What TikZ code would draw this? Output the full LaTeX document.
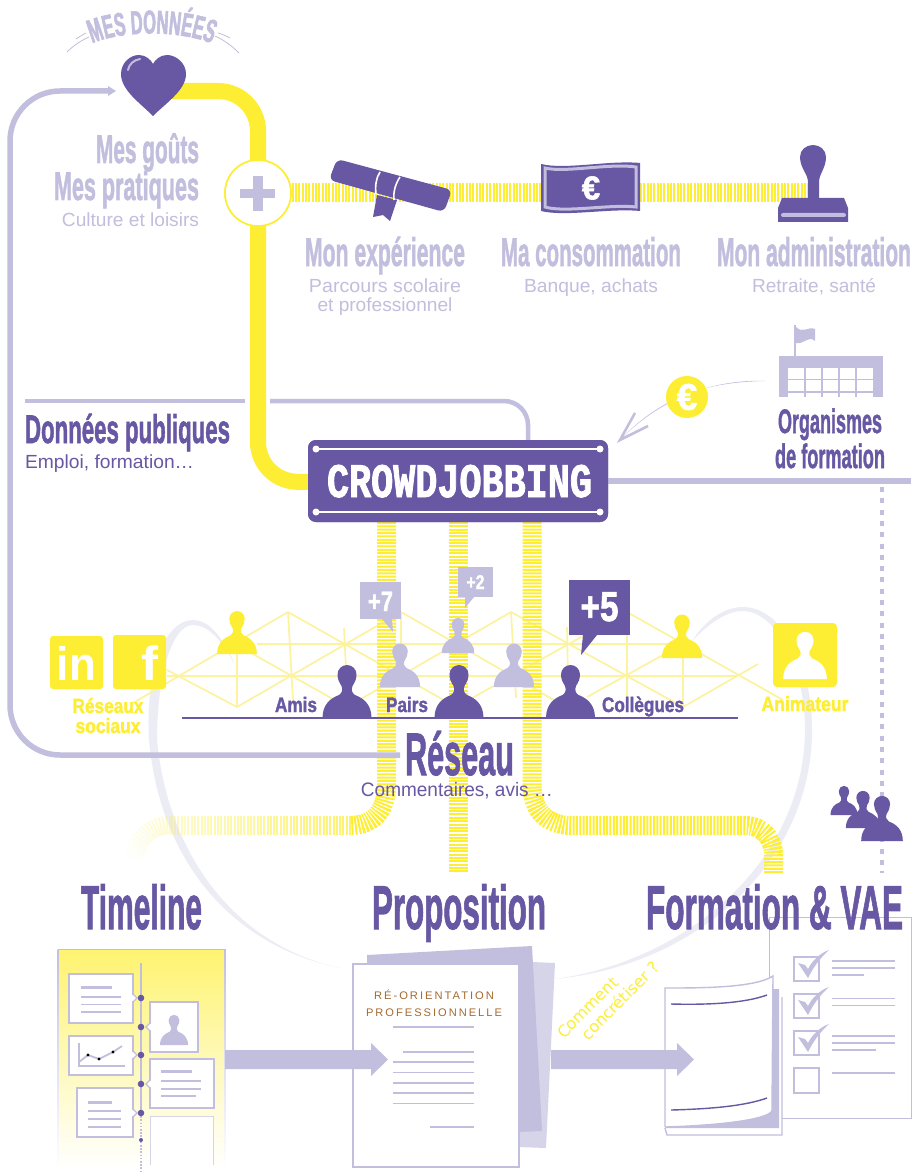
\documentclass[tikz,border=0pt]{standalone}
\usepackage{fontspec}
\usepackage{graphicx}
\usetikzlibrary{decorations.text,arrows.meta}
\setmainfont{Liberation Sans}
\newfontfamily\hv[BoldFeatures={FakeBold=1.7}]{Liberation Sans}
\newfontfamily\hvs[BoldFeatures={FakeStretch=0.5,FakeBold=1.7}]{Liberation Sans}
\newfontfamily\slabf[BoldFeatures={FakeBold=2}]{Liberation Mono}
\newfontfamily\vera{DejaVu Sans}
\definecolor{pur}{HTML}{6857A3}
\definecolor{lav}{HTML}{C2BEDD}
\definecolor{lav2}{HTML}{D6D4E8}
\definecolor{yel}{HTML}{FDEE33}
\definecolor{pale}{HTML}{FDF29E}
\definecolor{ghost}{HTML}{ECECF5}
\definecolor{brn}{HTML}{A56A30}
\newcommand\tl[3]{\resizebox{#1pt}{\height}{\fontsize{#2pt}{#2pt}\selectfont\hv\bfseries #3}}
\newcommand\rg[3]{\resizebox{#1pt}{\height}{\fontsize{#2pt}{#2pt}\selectfont #3}}
\newcommand\pers[4]{\begin{scope}[shift={(#1,#2)},scale=#3]
 \fill[#4] (-24.5,0) .. controls (-24.5,-14) and (-16,-20) .. (-8,-23) .. controls (-5,-25) and (-4,-28) .. (-5.5,-32) .. controls (-8,-36) and (-9.5,-39) .. (-9.5,-43.5) .. controls (-9.5,-49) and (-5,-53) .. (0,-53) .. controls (5,-53) and (9.5,-49) .. (9.5,-43.5) .. controls (9.5,-39) and (8,-36) .. (5.5,-32) .. controls (4,-28) and (5,-25) .. (8,-23) .. controls (16,-20) and (24.5,-14) .. (24.5,0) -- cycle;
 \end{scope}}
\newcommand\cardR[5]{\draw[cardb] (#1,#2) rectangle (#3,#4); \draw[cardb] (#3,#5-4) -- (#3+4,#5) -- (#3,#5+4); \fill[white] (#3-1,#5-3.4) rectangle (#3+.4,#5+3.4);}
\newcommand\cardL[5]{\draw[cardb] (#1,#2) rectangle (#3,#4); \draw[cardb] (#1,#5-4) -- (#1-4,#5) -- (#1,#5+4); \fill[white] (#1-.4,#5-3.4) rectangle (#1+1,#5+3.4);}
\newcommand\chk[1]{\begin{scope}[shift={(0,#1)}]\draw[lav,line width=1.8,fill=white] (794,0) rectangle (819,24);
 \fill[lav] (798,6) -- (805,8) .. controls (807,10) .. (808,12) .. controls (812,4) and (820,-4) .. (829,-7) .. controls (819,2) and (813,11) .. (808,21) -- cycle;\end{scope}}
\tikzset{
 lbl/.style={inner sep=0,outer sep=0,anchor=base},
 lblr/.style={inner sep=0,outer sep=0,anchor=base east},
 lbll/.style={inner sep=0,outer sep=0,anchor=base west},
 bandv/.style={draw=yel,line width=19,dash pattern=on 2pt off 1.35pt},
 solidy/.style={draw=yel,line width=16},
 lavline/.style={draw=lav,line width=5.5},
 lat/.style={draw=pale,line width=1.7},
 cardb/.style={draw=lav,line width=1.2,fill=white},
 rule/.style={draw=lav,line width=1.6},
 plusc/.style={circle,draw=yel,fill=white,line width=1.6,minimum size=66,inner sep=0,outer sep=0},
 cjbox/.style={inner sep=0,outer sep=0,minimum width=300,minimum height=82,rounded corners=8,fill=pur},
}
\begin{document}
\begin{tikzpicture}[x=1pt,y=-1pt]
\useasboundingbox (0,0) rectangle (914,1174);
\fill[white] (0,0) rectangle (914,1174);
% ghost arcs
\fill[ghost] (340,968) .. controls (230,945) and (160,860) .. (149,740) .. controls (145,670) and (165,620) .. (193,620) .. controls (208,620) and (222,635) .. (235,665) .. controls (222,640) and (208,625) .. (193,625) .. controls (172,625) and (157,675) .. (157,740) .. controls (168,855) and (235,945) .. (340,968) -- cycle;
\fill[ghost] (693,640) .. controls (705,620) and (725,607) .. (743,607) .. controls (780,607) and (812,660) .. (812,730) .. controls (812,860) and (700,965) .. (555,979) .. controls (690,960) and (804,860) .. (805,730) .. controls (805,665) and (775,611) .. (743,611) .. controls (725,611) and (708,625) .. (693,640) -- cycle;
% lattice
\foreach \a/\b/\c/\d in {133/703/288/612, 288/612/456/707, 167/670/237/707, 237/707/401/612, 237/645/347/707, 401/612/566/707, 347/707/511/612, 456/707/626/612, 511/612/683/707, 587/697/683/644, 627/612/783/700, 683/707/758/664, 257/644/670/644, 167/676/737/676, 288/612/293/700, 237/650/237/707, 344/628/347/690, 401/612/401/660, 511/612/516/698, 567/627/568/680, 627/612/627/700, 683/650/683/707}
 {\draw[lat] (\a,\b) -- (\c,\d);}
% network persons and bands
\coordinate (bl0) at (386.5,522); \coordinate (bc0) at (458.5,522); \coordinate (br0) at (532,522);
\coordinate (bc1) at (458.5,873); \coordinate (br1) at (773.5,873);
\draw[bandv] (bl0) -- (386.5,785) .. controls (386.5,812) and (372,825.5) .. (350,825.5);
\draw[bandv] (bc0) -- (bc1);
\draw[bandv] (br0) -- (532,785) .. controls (532,812) and (548,825.5) .. (572,825.5) -- (745,825.5) .. controls (762,825.5) and (773.5,838) .. (773.5,855) -- (br1);
\foreach \x in {350,346.7,...,170} {
 \pgfmathsetmacro\op{0.25+0.45*(\x-170)/180}
 \draw[yel,line width=2,opacity=\op] (\x,816) -- (\x,835);}
\foreach \t in {0,5,...,85} {
 \pgfmathsetmacro\op{0.25*(1-\t/90)}
 \draw[yel,line width=2,opacity=\op] ({170-26*sin(\t)},{860-26*cos(\t)}) -- ({170-44*sin(\t)},{860-44*cos(\t)});}
% top bands
\node[plusc] (plus) at (258,193) {};
\coordinate (stampc) at (812,193);
\draw[bandv] (plus.center) -- (stampc);
% main yellow
\coordinate (heartc) at (170,91);
\node[cjbox] (cj) at (458,481) {};
\begin{scope}[rounded corners=40]
\draw[solidy] (heartc) -- (258,91) -- (plus.center);
\draw[solidy] (plus.center) -- (258,482) -- (cj.center);
\end{scope}
\node[plusc] at (plus) {};
% plus
\fill[lav] (240,189) rectangle (275,198);
\fill[lav] (253,176) rectangle (263,211);
% lavender loop
\coordinate (resw) at (400,755); \coordinate (loopend) at (108,91);
\draw[lavline,rounded corners=50] (resw) -- (10,755) -- (10,91) -- (loopend);
\fill[lav] (108,86) -- (116,91) -- (108,96) -- cycle;
% heart
\fill[pur] (153,116) .. controls (140,103) and (121,90) .. (121,74) .. controls (121,63) and (130,55) .. (139,55) .. controls (146,55) and (151,60) .. (153,64) .. controls (155,60) and (160,55) .. (167,55) .. controls (176,55) and (186,63) .. (186,74) .. controls (186,90) and (166,103) .. (153,116) -- cycle;
\draw[lav,line width=2,line cap=round] (128,70) .. controls (129,64) and (134,60) .. (140,59);
% MES DONNEES
\path[decorate,decoration={text along path,text align=center,text={|\fontsize{33pt}{33pt}\selectfont\hvs\bfseries\color{lav}|MES DONNÉES}}] (85,47) .. controls (115,29) and (187,29) .. (219,47);
\draw[lav,line width=.8] (67,52) .. controls (73,46) and (80,41) .. (89,37);
\draw[lav,line width=.8] (76,39) .. controls (79,37) and (82,35) .. (86,33);
\draw[lav,line width=.8] (215,36) .. controls (224,40) and (232,46) .. (239,53);
\draw[lav,line width=.8] (218,33) .. controls (222,34) and (226,36) .. (230,38);
% text top
\node[lblr,text=lav] (t1) at (199,163) {\tl{103}{40}{Mes goûts}};
\node[lblr,text=lav] (t2) at (199,200) {\tl{145}{40}{Mes pratiques}};
\node[lblr,text=lav] (t3) at (199,226.5) {\rg{137}{19}{Culture et loisirs}};
% diploma
\fill[pur,rounded corners=6] (337,159) -- (452,190) -- (444,212) -- (329,180) -- cycle;
\fill[pur] (377,195) -- (397,200) -- (390,221) -- (383,215) -- (373,217) -- cycle;
\draw[white,line width=1.6] (380,172) .. controls (376,178) and (375,186) .. (376,194);
\draw[white,line width=1.6] (400,177) .. controls (396,183) and (393,191) .. (394,200);
% banknote
\fill[pur] (541,164) .. controls (565,170) and (610,160) .. (640,163) -- (640,211) .. controls (610,208) and (565,217) .. (541,211) -- cycle;
\draw[lav,line width=3] (545,168) .. controls (565,173) and (610,163) .. (636,167) -- (636,207) .. controls (610,204) and (565,213) .. (545,207) -- cycle;
\node[inner sep=0,text=white,font=\fontsize{33pt}{33pt}\selectfont\hv\bfseries] (eur1) at (591,188) {€};
% stamp
\fill[pur] (808,198) -- (808,182) .. controls (808,174) and (800,168) .. (800,157) .. controls (800,150) and (806,145) .. (813,145) .. controls (820,145) and (826,150) .. (826,157) .. controls (826,168) and (819,174) .. (819,182) -- (819,198) -- cycle;
\fill[pur] (782,198) -- (844,198) -- (848,208) -- (848,222) -- (778,222) -- (778,208) -- cycle;
\fill[lav,rounded corners=2] (781,213) rectangle (846,217);
% top labels
\node[lbl,text=lav] (t4) at (385,266) {\tl{160}{40}{Mon expérience}};
\node[lbl,text=lav] (t5) at (385,292) {\rg{152}{19}{Parcours scolaire}};
\node[lbl,text=lav] (t6) at (385,311) {\rg{135}{19}{et professionnel}};
\node[lbl,text=lav] (t7) at (591,266) {\tl{180}{40}{Ma consommation}};
\node[lbl,text=lav] (t8) at (591,292) {\rg{134}{19}{Banque, achats}};
\node[lbl,text=lav] (t9) at (814,266) {\tl{194}{40}{Mon administration}};
\node[lbl,text=lav] (t10) at (814,292) {\rg{124}{19}{Retraite, santé}};
% donnees publiques
\coordinate (dpa) at (25,401); \coordinate (dpb) at (245,401); \coordinate (dpc) at (270,401); \coordinate (dpd) at (528,442);
\draw[draw=lav,line width=4.5] (dpa) -- (dpb);
\draw[draw=lav,line width=4.5,rounded corners=24] (dpc) -- (528,401) -- (dpd);
\node[lbll,text=pur] (t11) at (25,443) {\tl{205}{40}{Données publiques}};
\node[lbll,text=pur] (t12) at (25,468) {\rg{169}{19}{Emploi, formation…}};
% cj box details
\coordinate (rr) at (911,481);
\draw[draw=lav,line width=5.5] (cj.east) -- (rr);
\node[cjbox] at (cj) {};
\draw[white,line width=2] (316,449) -- (600,449); \draw[white,line width=2] (316,512) -- (600,512);
\foreach \p in {316,600} {\fill[white] (\p,449) circle (3.5); \fill[white] (\p,512) circle (3.5);}
\node[lbl,text=white] (cjt) at (459.5,497) {\resizebox{265pt}{\height}{\fontsize{48pt}{48pt}\selectfont\slabf\bfseries CROWDJOBBING}};
% euro arrow
\coordinate (orgw) at (765,381); \coordinate (tip) at (620,440);
\fill[lav] (orgw) .. controls (715,382) and (665,392) .. (tip) .. controls (662,397) and (715,379) .. (orgw) -- cycle;
\draw[lav,line width=2.5] (635,413) -- (tip) -- (648,426);
\node[circle,fill=yel,minimum size=42,inner sep=0,text=white,font=\fontsize{37pt}{37pt}\selectfont\hv\bfseries] (coin) at (687,397) {€};
% building
\fill[lav] (779,356) rectangle (883,397);
\fill[white] (788,368) rectangle (873,397);
\fill[lav] (779,392) rectangle (788,397); \fill[lav] (873,392) rectangle (883,397);
\draw[lav,line width=1.6] (788,379.5) -- (873,379.5);
\draw[lav,line width=1.6] (788,392) -- (873,392);
\foreach \x in {805,822,839,856} {\draw[lav,line width=1.6] (\x,368) -- (\x,397);}
\draw[lav,line width=1.4] (795,325) -- (795,357);
\fill[lav] (796,327) .. controls (803,334) and (808,326) .. (815,329) -- (815,341) .. controls (809,335) and (803,345) .. (796,343) -- cycle;
\node[lbl,text=pur] (t13) at (830,433) {\tl{104}{34}{Organismes}};
\node[lbl,text=pur] (t14) at (830,468) {\tl{110}{34}{de formation}};
% dotted
\coordinate (da) at (881.7,487); \coordinate (db) at (881.7,873);
\draw[draw=lav,line width=3.8,dash pattern=on 5pt off 6.3pt] (da) -- (db);
% persons
\pers{237}{654}{.81}{yel}
\pers{458}{653}{.66}{lav}
\pers{400}{687}{.82}{lav}
\pers{514}{687}{.82}{lav}
\pers{682}{658}{.82}{yel}
\pers{347}{718}{1}{pur}
\pers{459}{718}{1}{pur}
\pers{570.5}{718}{1}{pur}
\pers{844}{815}{.55}{pur}
\pers{863}{828}{.7}{pur}
\pers{882}{841}{.85}{pur}
% rule
\coordinate (ra) at (182,718); \coordinate (rb) at (738,718);
\draw[pur,line width=1.8] (ra) -- (rb);
\node[lbl,text=pur] (a1) at (296,712) {\tl{42}{21}{Amis}};
\node[lbl,text=pur] (a2) at (407,712) {\tl{42}{21}{Pairs}};
\node[lbl,text=pur] (a3) at (643,712) {\tl{82}{21}{Collègues}};
% bubbles
\fill[lav] (360,582) rectangle (401,619); \fill[lav] (382,619) -- (393,632) -- (392,619) -- cycle;
\node[lbl,text=white] (b7) at (380.5,611) {\tl{25}{28}{+7}};
\fill[lav] (458,567) rectangle (493,597); \fill[lav] (465,597) -- (465,608) -- (474,597) -- cycle;
\node[lbl,text=white] (b2) at (475.5,589) {\tl{18}{20}{+2}};
\fill[pur] (569,580) rectangle (630,635); \fill[pur] (583,635) -- (581,655) -- (597,635) -- cycle;
\node[lbl,text=white] (b5) at (599.5,621) {\tl{38}{42}{+5}};
% social
\fill[yel,rounded corners=3] (50,636) rectangle (103,689);
\fill[yel,rounded corners=3] (113,635) rectangle (166,689);
\node[lbl,text=white] (in) at (76.5,680) {\resizebox{39pt}{\height}{\fontsize{47pt}{47pt}\selectfont\bfseries in}};
\node[lbl,text=white] (ff) at (150,680) {\resizebox{17pt}{\height}{\fontsize{48pt}{48pt}\selectfont\bfseries f}};
\node[lbl,text=yel] (r1) at (108,713) {\tl{71}{20.5}{Réseaux}};
\node[lbl,text=yel] (r2) at (108,733) {\tl{65}{20.5}{sociaux}};
% animateur
\fill[yel,rounded corners=4] (773,623) rectangle (837,687);
\pers{805}{679}{.89}{white}
\node[lbl,text=yel] (r3) at (805,711) {\tl{87}{20.5}{Animateur}};
% reseau
\node[lbl,text=pur] (r4) at (459.5,775) {\tl{109}{60}{Réseau}};
\node[lbl,text=pur] (r5) at (457,796) {\rg{192}{19.5}{Commentaires, avis …}};
% timeline card
\shade[top color=yel!70!white,bottom color=white] (58,949) rectangle (225,1168);
\shade[top color=lav,bottom color=white] (57.5,949) rectangle (58.7,1168);
\shade[top color=lav,bottom color=white] (224.3,949) rectangle (225.5,1168);
\fill[lav] (57.5,948.5) rectangle (225.5,950);
\draw[lav,line width=2.4] (141,963) -- (141,1113);
\draw[lav,line width=1.6,dash pattern=on 1.6pt off 1.6pt] (141,1113) -- (141,1173);
\cardR{69}{974}{133}{1023}{998}
\cardL{150}{1002}{198}{1052}{1027}
\cardR{69}{1036}{133}{1075}{1055}
\cardL{150}{1059}{214}{1108}{1084}
\cardR{77}{1088}{133}{1137}{1113}
\fill[white] (150,1116) rectangle (213,1165);
\draw[lav2,line width=1] (150,1165) -- (150,1116) -- (213,1116) -- (213,1165);
\fill[lav] (81,985.5) rectangle (112,988.5);
\foreach \y in {997,1004.5,1012} {\draw[lav,line width=1.2] (81,\y) -- (121,\y);}
\pers{174}{1045}{.57}{lav}
\draw[lav,line width=1.3] (79,1043) -- (79,1066) -- (125,1066);
\draw[lav,line width=1.8] (79,1062) -- (88,1055) -- (99,1059) -- (113,1052) -- (122,1046);
\foreach \p/\q in {88/1055,99/1059,113/1052} {\fill[black] (\p,\q) circle (1.6);}
\fill[lav] (161,1070) rectangle (192,1073);
\foreach \y/\e in {1081/201,1089/201,1096/196} {\draw[lav,line width=1.2] (161,\y) -- (\e,\y);}
\fill[lav] (88,1100.5) rectangle (112,1103.5);
\foreach \y in {1111,1119,1127} {\draw[lav,line width=1.2] (88,\y) -- (121,\y);}
\foreach \y in {998,1027,1055,1084,1113} {\fill[pur] (141,\y) circle (3.3);}
\fill[pur] (141,1140) circle (2);
% proposition doc
\fill[lav2] (532,962) -- (555,963) -- (546,1148) -- (518,1147) -- cycle;
\fill[lav] (367,955) -- (532,946) -- (542,1131) -- (518,1132) -- (518,963) -- (367,963) -- cycle;
\node[draw=lav,line width=1.6,fill=white,inner sep=0,anchor=north west,minimum width=166,minimum height=203] (doc) at (352,963) {};
\node[lbl,text=brn] (d1) at (434,999) {\resizebox{120pt}{\height}{\fontsize{11pt}{11pt}\selectfont\addfontfeature{LetterSpace=18}RÉ-ORIENTATION}};
\node[lbl,text=brn] (d2) at (434,1016) {\resizebox{136pt}{\height}{\fontsize{11pt}{11pt}\selectfont\addfontfeature{LetterSpace=18}PROFESSIONNELLE}};
\foreach \y/\s/\e in {1027/393/474,1052/403/474,1062/393/474,1072.5/393/474,1083/393/474,1093/393/474,1103.5/393/474,1127/430/474} {\draw[rule] (\s,\y) -- (\e,\y);}
% checklist
\node[draw=lav,line width=1.4,fill=white,inner sep=0,anchor=north west,minimum width=142,minimum height=201] (chk) at (769,917) {};
\chk{957}\chk{994}\chk{1031}
\draw[lav,line width=1.8] (794,1068) rectangle (819,1093);
\foreach \y/\e in {961/895,968/895,975/864,998.5/895,1005.5/895,1036/895,1043/895,1050/876,1073/895} {\draw[rule] (832,\y) -- (\e,\y);}
% book
\draw[lav,line width=1.4,fill=white] (665,1128) -- (667,1135) -- (782,1135) -- (782,997);
\fill[lav] (772,989) -- (779,989) -- (779,1128) -- (665,1128) -- cycle;
\draw[lav,line width=1.4,fill=white] (665,1127) -- (665,988) .. controls (700,988) and (755,988) .. (773,976) -- (772,1110) .. controls (772,1118) and (730,1125) .. (665,1127);
\draw[pur,line width=1.4] (671,1004) .. controls (710,1005) and (745,1003) .. (767,995);
\draw[pur,line width=1.4] (671,1110) .. controls (710,1109) and (745,1106) .. (767,1098);
% arrows
\fill[lav] (225,1050) -- (371,1050) -- (371,1043) -- (388,1059.5) -- (371,1076) -- (371,1069) -- (225,1069) -- cycle;
\fill[lav] (551,1050) -- (677,1050) -- (677,1043) -- (694,1059.5) -- (677,1076) -- (677,1069) -- (551,1069) -- cycle;
\node[lbll,text=yel,rotate=45,font=\fontsize{16pt}{16pt}\selectfont\vera] (c1) at (564,1039) {Comment};
\node[lbll,text=yel,rotate=45,font=\fontsize{16pt}{16pt}\selectfont\vera] (c2) at (588,1041) {concrétiser ?};
% titles
\node[lbl,text=pur] (h1) at (141.5,929) {\tl{121}{62}{Timeline}};
\node[lbl,text=pur] (h2) at (459,929) {\tl{174}{62}{Proposition}};
\node[lbl,text=pur] (h3) at (774.5,929) {\tl{257}{62}{Formation \& VAE}};
\end{tikzpicture}
\end{document}
